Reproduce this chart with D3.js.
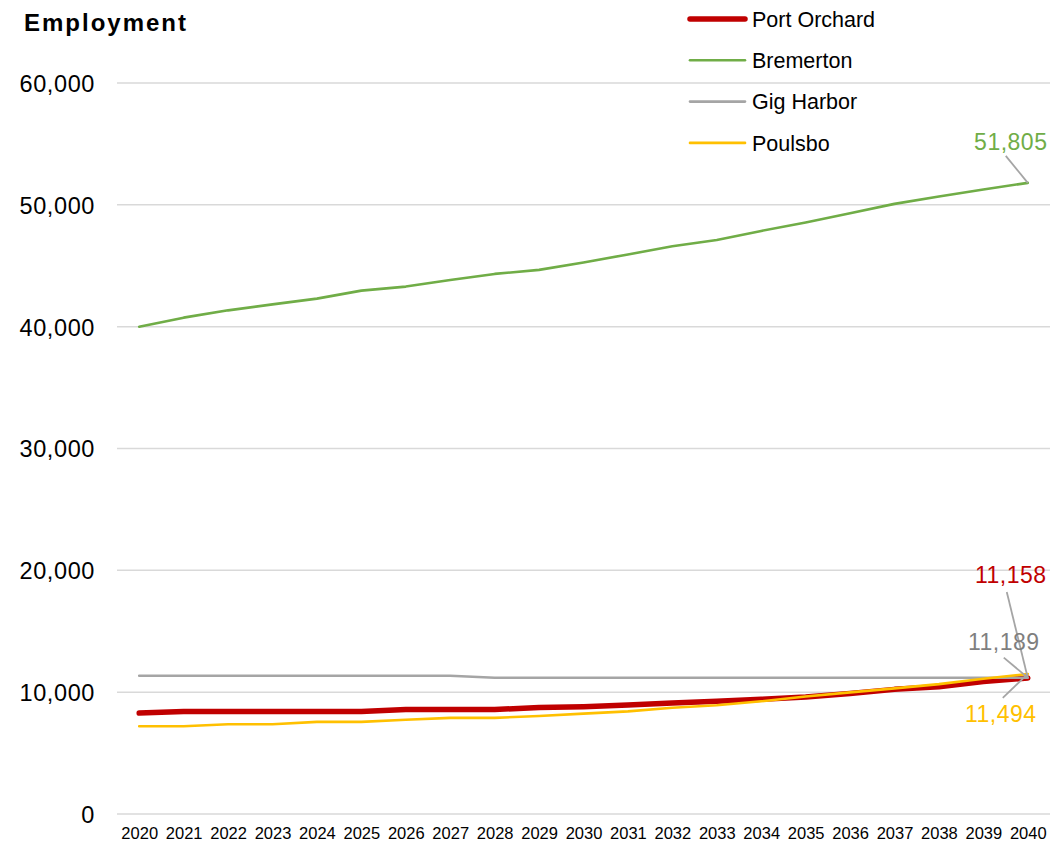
<!DOCTYPE html>
<html>
<head>
<meta charset="utf-8">
<script src="https://cdn.jsdelivr.net/npm/d3@7"></script>
<style>
  html, body { margin: 0; padding: 0; background: #ffffff; }
  svg { display: block; font-family: "Liberation Sans", Arial, sans-serif; }
</style>
</head>
<body>
<svg id="chart" width="1061" height="842"></svg>
<script>
// Employment forecast by city, 2020–2040
const years = d3.range(2020, 2041).map(String);
const portOrchard = [8280, 8410, 8410, 8410, 8410, 8410, 8580, 8580, 8580, 8740, 8800, 8940, 9110, 9250, 9410, 9600, 9900, 10230, 10440, 10880, 11158];
const bremerton = [40000, 40740, 41340, 41830, 42300, 42960, 43290, 43830, 44330, 44660, 45260, 45930, 46600, 47120, 47860, 48550, 49310, 50080, 50680, 51260, 51805];
const gigHarbor = [11350, 11350, 11350, 11350, 11350, 11350, 11350, 11350, 11189, 11189, 11189, 11189, 11189, 11189, 11189, 11189, 11189, 11189, 11189, 11189, 11189];
const poulsbo = [7200, 7200, 7370, 7370, 7560, 7560, 7730, 7890, 7890, 8050, 8240, 8420, 8720, 8930, 9250, 9650, 9980, 10310, 10660, 11100, 11494];
const yTicks = [0, 10000, 20000, 30000, 40000, 50000, 60000];

const seriesList = [
  { name: "Port Orchard", values: portOrchard, color: "#C00000", width: 5.5 },
  { name: "Bremerton",    values: bremerton,   color: "#70AD47", width: 2.6 },
  { name: "Gig Harbor",   values: gigHarbor,   color: "#A5A5A5", width: 2.6 },
  { name: "Poulsbo",      values: poulsbo,     color: "#FFC000", width: 2.6 }
];

const svg = d3.select("#chart");
const plotLeft = 117, plotRight = 1050, plotTop = 83, plotBottom = 814;

const x = d3.scalePoint().domain(years).range([plotLeft, plotRight]).padding(0.5);
const y = d3.scaleLinear().domain([0, 60000]).range([plotBottom, plotTop]);
const fmt = d3.format(",");

// Horizontal gridlines
svg.append("g")
  .selectAll("line")
  .data(yTicks)
  .join("line")
  .attr("x1", plotLeft).attr("x2", plotRight)
  .attr("y1", d => y(d)).attr("y2", d => y(d))
  .attr("stroke", "#D9D9D9").attr("stroke-width", 1.5);

// Y axis labels
const yAxis = d3.axisLeft(y).tickValues(yTicks).tickFormat(fmt).tickSize(0).tickPadding(0);
const yg = svg.append("g").attr("transform", `translate(${plotLeft - 22},0)`).call(yAxis);
yg.select(".domain").remove();
yg.selectAll("text")
  .attr("font-family", "Liberation Sans, Arial, sans-serif")
  .attr("font-size", 23.5).attr("fill", "#000").attr("dy", "0.36em")
  .attr("letter-spacing", 0.6);

// X axis labels
const xAxis = d3.axisBottom(x).tickSize(0).tickPadding(0);
const xg = svg.append("g").attr("transform", `translate(0,${plotBottom + 25})`).call(xAxis);
xg.select(".domain").remove();
xg.selectAll("text")
  .attr("font-family", "Liberation Sans, Arial, sans-serif")
  .attr("font-size", 16.5).attr("fill", "#000").attr("dy", 0);

// Series lines
const line = d3.line()
  .x((d, i) => x(years[i]))
  .y(d => y(d));

svg.append("g")
  .selectAll("path")
  .data(seriesList)
  .join("path")
  .attr("d", s => line(s.values))
  .attr("fill", "none")
  .attr("stroke", s => s.color)
  .attr("stroke-width", s => s.width)
  .attr("stroke-linejoin", "round")
  .attr("stroke-linecap", "round");

// End-point labels with leader lines
const last = years[years.length - 1];
const endLabels = [
  { s: seriesList[1], dx: -17, dy: -33, anchorDx: -22, anchorDy: -27, color: "#70AD47" },
  { s: seriesList[0], dx: -17, dy: -95, anchorDx: -21, anchorDy: -86, color: "#C00000" },
  { s: seriesList[2], dx: -24, dy: -28, anchorDx: -24, anchorDy: -20, color: "#7F7F7F" },
  { s: seriesList[3], dx: -27, dy: 48,  anchorDx: -25, anchorDy: 24,  color: "#FFC000" }
];
const lg = svg.append("g");
endLabels.forEach(l => {
  const v = l.s.values[l.s.values.length - 1];
  const px = x(last), py = y(v);
  lg.append("line")
    .attr("x1", px + l.anchorDx).attr("y1", py + l.anchorDy)
    .attr("x2", px).attr("y2", py)
    .attr("stroke", "#A5A5A5").attr("stroke-width", 1.8);
  lg.append("text")
    .attr("x", px + l.dx).attr("y", py + l.dy)
    .attr("text-anchor", "middle")
    .attr("font-size", 23).attr("letter-spacing", 0.5)
    .attr("fill", l.color)
    .text(fmt(v));
});

// Title
svg.append("text")
  .attr("x", 24).attr("y", 31)
  .attr("font-size", 24).attr("font-weight", "bold").attr("letter-spacing", 2)
  .attr("fill", "#000")
  .text("Employment");

// Legend
const legend = svg.append("g").attr("transform", "translate(688,19)");
const items = legend.selectAll("g")
  .data(seriesList)
  .join("g")
  .attr("transform", (d, i) => `translate(0,${i * 41.3})`);
items.append("line")
  .attr("x1", 2).attr("x2", 57).attr("y1", 0).attr("y2", 0)
  .attr("stroke", d => d.color)
  .attr("stroke-width", d => d.width)
  .attr("stroke-linecap", "round");
items.append("text")
  .attr("x", 64).attr("y", 0).attr("dy", "0.36em")
  .attr("font-size", 21.5).attr("fill", "#000")
  .text(d => d.name);
</script>
</body>
</html>
